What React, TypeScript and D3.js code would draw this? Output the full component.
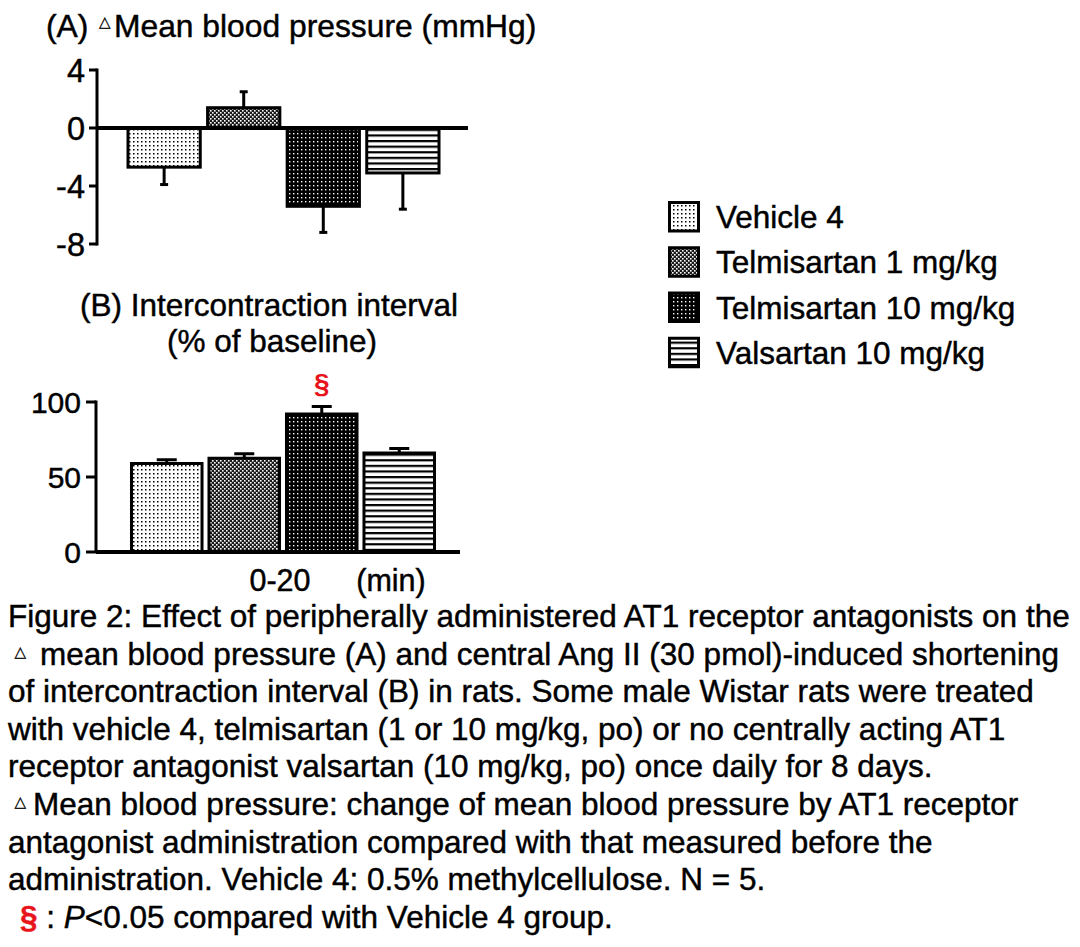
import React from "react";
import * as d3 from "d3";

const groups = ["Vehicle 4", "Telmisartan 1 mg/kg", "Telmisartan 10 mg/kg", "Valsartan 10 mg/kg"];
const patternIds = ["p-veh", "p-tel1", "p-tel10", "p-val"];
const bpMean = [-2.7, 1.4, -5.4, -3.1];
const bpSem = [1.2, 1.1, 1.8, 2.5];
const bpTicks = [4, 0, -4, -8];
const iciMean = [59, 62.5, 92, 66];
const iciSem = [2.5, 3, 5, 3];
const iciTicks = [100, 50, 0];
const sigFlags = [false, false, true, false];

const TRI = "\u25B3";
const captionLines = [
  "Figure 2: Effect of peripherally administered AT1 receptor antagonists on the",
  TRI + "mean blood pressure (A) and central Ang II (30 pmol)-induced shortening",
  "of intercontraction interval (B) in rats. Some male Wistar rats were treated",
  "with vehicle 4, telmisartan (1 or 10 mg/kg, po) or no centrally acting AT1",
  "receptor antagonist valsartan (10 mg/kg, po) once daily for 8 days.",
  TRI + "Mean blood pressure: change of mean blood pressure by AT1 receptor",
  "antagonist administration compared with that measured before the",
  "administration. Vehicle 4: 0.5% methylcellulose. N = 5.",
];
// x where the text after the triangle begins, per caption line
const afterTriX = [0, 40, 0, 0, 0, 33, 0, 0];

const FONT = "Liberation Sans, Arial, Helvetica, sans-serif";
const TRI_FONT = "DejaVu Sans, sans-serif";
const FS = 31.5;
const TXT = { fontFamily: FONT, fill: "#000", stroke: "#000", strokeWidth: 0.45 } as const;

function renderLine(line: string, i: number, x: number, y: number) {
  if (line.startsWith(TRI)) {
    const rest = line.slice(1);
    return (
      <text key={i} y={y} fontSize={FS} {...TXT}>
        <tspan x={14.5} fontSize={15} fontFamily={TRI_FONT} strokeWidth={0.3} dy={-8}>{TRI}</tspan>
        <tspan x={afterTriX[i]} dy={8}>{rest}</tspan>
      </text>
    );
  }
  return (
    <text key={i} x={x} y={y} fontSize={FS} {...TXT}>
      {line}
    </text>
  );
}

export default function App() {
  // Panel A scales
  const xA = d3.scaleBand<string>().domain(groups).range([128, 439]).paddingInner(0.092).paddingOuter(0);
  const yA = d3.scaleLinear().domain([-8, 4]).range([244, 70]);
  const axAx = 97;
  // Panel B scales
  const xB = d3.scaleBand<string>().domain(groups).range([131.5, 434.5]).paddingInner(0.09).paddingOuter(0);
  const yB = d3.scaleLinear().domain([0, 100]).range([552, 402]);
  const axBx = 96;

  const legendY = d3.scaleBand<string>().domain(groups).range([201, 382]).paddingInner(0);

  return (
    <div style={{ position: "absolute", left: 0, top: 0 }}>
      <svg width={1080} height={947} viewBox="0 0 1080 947" style={{ display: "block", background: "#fff" }}>
        <defs>
          <pattern id="p-veh" patternUnits="userSpaceOnUse" width={4} height={4}>
            <rect width={4} height={4} fill="#fff" />
            <rect x={1} y={1} width={1.5} height={1.5} fill="#000" />
          </pattern>
          <pattern id="p-tel1" patternUnits="userSpaceOnUse" width={4} height={4}>
            <rect width={4} height={4} fill="#1a1a1a" />
            <rect x={0} y={0} width={1.6} height={1.6} fill="#fff" />
            <rect x={2} y={2} width={1.6} height={1.6} fill="#fff" />
          </pattern>
          <pattern id="p-tel10" patternUnits="userSpaceOnUse" width={4} height={4}>
            <rect width={4} height={4} fill="#000" />
            <rect x={1} y={1} width={1.4} height={1.4} fill="#fff" />
          </pattern>
          <pattern id="p-val" patternUnits="userSpaceOnUse" width={6} height={5.6}>
            <rect width={6} height={5.6} fill="#fff" />
            <rect x={0} y={0} width={6} height={2.2} fill="#000" />
          </pattern>
        </defs>

        {/* Panel A title */}
        <text y={37} fontSize={31.8} {...TXT}>
          <tspan x={46}>(A)</tspan>
          <tspan x={99} fontSize={15} fontFamily={TRI_FONT} strokeWidth={0.3} dy={-10}>{TRI}</tspan>
          <tspan x={114} dy={10}>Mean blood pressure (mmHg)</tspan>
        </text>

        {/* Panel A bars */}
        {groups.map((g, i) => {
          const v = bpMean[i];
          const x = xA(g)!;
          const w = xA.bandwidth();
          const y0 = yA(0);
          const y1 = yA(v);
          const top = Math.min(y0, y1);
          const h = Math.abs(y1 - y0);
          const ey = yA(v + Math.sign(v) * bpSem[i]);
          const cx = x + w / 2;
          return (
            <g key={g}>
              <line x1={cx} x2={cx} y1={y1} y2={ey} stroke="#000" strokeWidth={3} />
              <line x1={cx - 4} x2={cx + 4} y1={ey} y2={ey} stroke="#000" strokeWidth={3} />
              <rect x={x} y={top} width={w} height={h} fill={`url(#${patternIds[i]})`} stroke="#000" strokeWidth={3} />
            </g>
          );
        })}
        {/* Panel A axis */}
        <line x1={axAx} x2={axAx} y1={yA(4) - 1.5} y2={yA(-8) + 1.5} stroke="#000" strokeWidth={3} />
        {bpTicks.map((t) => (
          <g key={t}>
            <line x1={axAx - 8} x2={axAx} y1={yA(t)} y2={yA(t)} stroke="#000" strokeWidth={3} />
            <text x={85} y={yA(t) + 12} textAnchor="end" fontSize={32.5} {...TXT}>
              {t}
            </text>
          </g>
        ))}
        <line x1={axAx} x2={468} y1={yA(0)} y2={yA(0)} stroke="#000" strokeWidth={4} />

        {/* Legend */}
        {groups.map((g, i) => {
          const y = legendY(g)!;
          return (
            <g key={g}>
              <rect x={669.5} y={y + 1.5} width={29} height={28.5} fill={`url(#${patternIds[i]})`} stroke="#000" strokeWidth={3} />
              <text x={716} y={y + 27} fontSize={FS} {...TXT}>
                {g}
              </text>
            </g>
          );
        })}

        {/* Panel B title */}
        <text x={269} y={316} textAnchor="middle" fontSize={FS} {...TXT}>
          (B) Intercontraction interval
        </text>
        <text x={272} y={352} textAnchor="middle" fontSize={FS} {...TXT}>
          (% of baseline)
        </text>

        {/* Panel B bars */}
        {groups.map((g, i) => {
          const v = iciMean[i];
          const x = xB(g)!;
          const w = xB.bandwidth();
          const y1 = yB(v);
          const ey = yB(v + iciSem[i]);
          const cx = x + w / 2;
          return (
            <g key={g}>
              <line x1={cx} x2={cx} y1={y1} y2={ey} stroke="#000" strokeWidth={3} />
              <line x1={cx - 10} x2={cx + 10} y1={ey} y2={ey} stroke="#000" strokeWidth={3} />
              <rect x={x} y={y1} width={w} height={yB(0) - y1} fill={`url(#${patternIds[i]})`} stroke="#000" strokeWidth={3} />
              {sigFlags[i] && (
                <text x={cx} y={ey - 14} textAnchor="middle" fontSize={28} fontWeight="bold" fontFamily={FONT} fill="#e8141b">
                  §
                </text>
              )}
            </g>
          );
        })}
        {/* Panel B axis */}
        <line x1={axBx} x2={axBx} y1={yB(100) - 1.5} y2={yB(0)} stroke="#000" strokeWidth={3} />
        {iciTicks.map((t) => (
          <g key={t}>
            <line x1={axBx - 10} x2={axBx} y1={yB(t)} y2={yB(t)} stroke="#000" strokeWidth={3} />
            <text x={81} y={yB(t) + 11} textAnchor="end" fontSize={30} {...TXT}>
              {t}
            </text>
          </g>
        ))}
        <line x1={axBx} x2={460} y1={yB(0)} y2={yB(0)} stroke="#000" strokeWidth={4} />
        <text x={280} y={591} textAnchor="middle" fontSize={30.5} {...TXT}>0-20</text>
        <text x={391} y={591} textAnchor="middle" fontSize={30.5} {...TXT}>(min)</text>

        {/* Caption */}
        {captionLines.map((line, i) => renderLine(line, i, 8, 627 + i * 37.6))}
        <text x={8} y={627 + 8 * 37.6} fontSize={FS} {...TXT}>
          <tspan fill="#e8141b" stroke="#e8141b" fontWeight="bold" dx={12}>§</tspan>
          <tspan> : </tspan>
          <tspan fontStyle="italic">P</tspan>
          <tspan>&lt;0.05 compared with Vehicle 4 group.</tspan>
        </text>
      </svg>
    </div>
  );
}
